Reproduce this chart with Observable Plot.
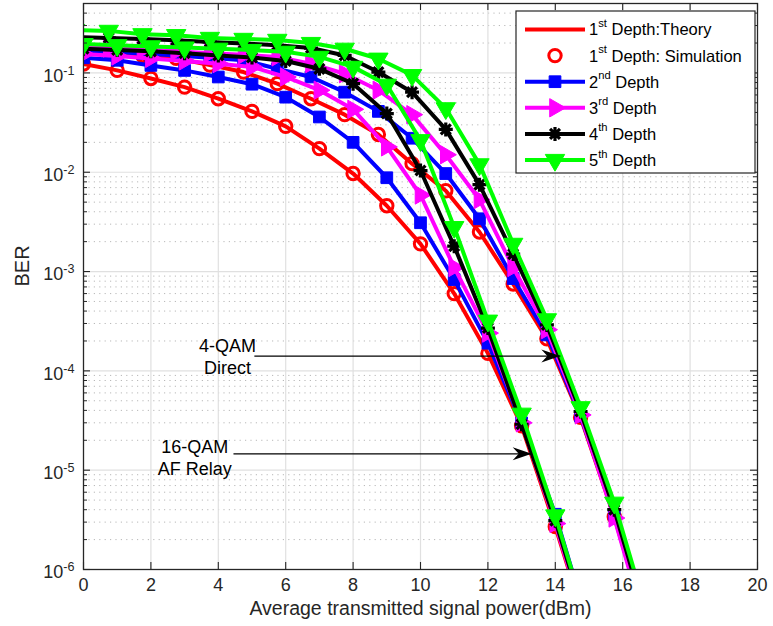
<!DOCTYPE html>
<html><head><meta charset="utf-8">
<script src="https://cdn.jsdelivr.net/npm/d3@7"></script>
<script src="https://cdn.jsdelivr.net/npm/@observablehq/plot@0.6"></script>
<style>
html,body{margin:0;padding:0;background:#fff;}
#chart{position:absolute;left:0;top:0;}
</style></head><body><div id="chart"></div>
<script>
// ---------- data ----------
const xLeft  = [0,1,2,3,4,5,6,7,8,9,10,11,12,13,14,15];
const red1L  = [0.123,0.106,0.088,0.072,0.055,0.041,0.029,0.0173,0.0097,0.0046,0.0019,0.0006,0.00015,2.8e-5,2.7e-6,2.2e-7];
const blue2L = [0.142,0.134,0.119,0.106,0.091,0.077,0.057,0.036,0.020,0.0088,0.0031,0.00083,0.00019,3.0e-5,3.6e-6,2.6e-7];
const mag3L  = [0.155,0.148,0.140,0.132,0.124,0.115,0.091,0.067,0.043,0.018,0.0059,0.0011,0.00024,3.0e-5,2.9e-6,2.2e-7];
const blk4L  = [0.175,0.170,0.165,0.158,0.150,0.143,0.132,0.110,0.078,0.039,0.0104,0.0018,0.00027,2.9e-5,3.1e-6,2.4e-7];
const grn5L  = [0.195,0.190,0.185,0.180,0.175,0.170,0.163,0.145,0.115,0.076,0.021,0.0028,0.00032,3.7e-5,3.5e-6,2.6e-7];

const xRight = [-0.25,0.75,1.75,2.75,3.75,4.75,5.75,6.75,7.75,8.75,9.75,10.75,11.75,12.75,13.75,14.75,15.75,16.75];
const red1R  = [0.165,0.158,0.150,0.140,0.120,0.102,0.078,0.055,0.038,0.024,0.0122,0.0065,0.0025,0.00075,0.00021,3.4e-5,3.4e-6,2.4e-7];
const blue2R = [0.170,0.163,0.157,0.150,0.142,0.134,0.110,0.091,0.064,0.041,0.022,0.0097,0.0034,0.00085,0.00023,3.5e-5,3.6e-6,2.2e-7];
const mag3R  = [0.185,0.178,0.172,0.165,0.158,0.152,0.145,0.124,0.098,0.067,0.038,0.015,0.0053,0.0011,0.00026,3.6e-5,3.3e-6,2.2e-7];
const blk4R  = [0.230,0.225,0.220,0.213,0.205,0.198,0.190,0.178,0.150,0.102,0.064,0.027,0.0075,0.0015,0.00029,3.9e-5,4.0e-6,2.8e-7];
const grn5R  = [0.270,0.265,0.245,0.240,0.225,0.220,0.215,0.200,0.175,0.139,0.095,0.044,0.012,0.0019,0.00033,4.3e-5,4.7e-6,3.3e-7];

const xTicks = [0,2,4,6,8,10,12,14,16,18,20];
const yTicks = [1e-6,1e-5,1e-4,1e-3,1e-2,1e-1];
const yMinor = yTicks.flatMap(p => [2,3,4,5,6,7,8,9].map(m => m*p)).filter(v => v < 0.5);

const legendLabels = [["1","st"," Depth:Theory"],["1","st"," Depth: Simulation"],["2","nd"," Depth"],["3","rd"," Depth"],["4","th"," Depth"],["5","th"," Depth"]];
const annoText = ["4-QAM\nDirect", "16-QAM\nAF Relay"];
const annoTextX = [4.27, 3.3];
const annoTextY = [1.41e-4, 1.37e-5];
const arrowX1 = [5.07, 4.45];
const arrowX2 = [14.15, 13.3];
const arrowY  = [1.41e-4, 1.46e-5];

// ---------- styles ----------
const FONT = "'Liberation Sans', Arial, Helvetica, sans-serif";
const asterisk8 = {draw(ctx, size){ const r = Math.sqrt(size/Math.PI);
  for (const a of [0,45,90,135]) { const t=a*Math.PI/180;
    ctx.moveTo(r*Math.cos(t), r*Math.sin(t)); ctx.lineTo(-r*Math.cos(t), -r*Math.sin(t)); } }};
const arrowHead = {draw(ctx){ ctx.moveTo(0,0); ctx.lineTo(-19,-6.5); ctx.lineTo(-13,0); ctx.lineTo(-19,6.5); ctx.closePath(); }};

const styles = {
  red:  {color:"#ff0000", symbol:"circle",  r:6.2, fill:"none",    sw:3,   rotate:0},
  blue: {color:"#0000ff", symbol:"square",  r:6.6, fill:"#0000ff", sw:1,   rotate:0},
  mag:  {color:"#ff00ff", symbol:"triangle",r:6.8, fill:"#ff00ff", sw:1,   rotate:90},
  blk:  {color:"#000000", symbol:asterisk8, r:7,   fill:"none",    sw:3.2, rotate:0},
  grn:  {color:"#00ff00", symbol:"triangle",r:7.2, fill:"#00ff00", sw:1,   rotate:180}
};
const seriesList = [
  [xLeft, red1L, "red"], [xRight, red1R, "red"],
  [xLeft, blue2L, "blue"], [xRight, blue2R, "blue"],
  [xLeft, mag3L, "mag"], [xRight, mag3R, "mag"],
  [xLeft, blk4L, "blk"], [xRight, blk4R, "blk"],
  [xLeft, grn5L, "grn"], [xRight, grn5R, "grn"]
];

function seriesMarks(xs, ys, key) {
  const st = styles[key];
  const rows = xs.map((x, i) => ({x, y: ys[i]}));
  return [
    Plot.line(rows, {x:"x", y:"y", stroke: st.color, strokeWidth: 4, strokeLinejoin:"round", clip: true}),
    Plot.dot(rows, {x:"x", y:"y", symbol: st.symbol, r: st.r, fill: st.fill, stroke: st.color,
                    strokeWidth: st.sw, rotate: st.rotate, clip: true})
  ];
}

const W = 773, H = 626, mL = 83, mR = 16, mT = 3, mB = 57;
const fw = W - mL - mR, fh = H - mT - mB;
const gridCol = "#e0e0e0", axCol = "#262626";

const annos = annoText.map((t, i) => ({t, x: annoTextX[i], y: annoTextY[i]}));
const arrows = arrowX1.map((x1, i) => ({x1, x2: arrowX2[i], y: arrowY[i]}));

const svg = Plot.plot({
  width: W, height: H, marginLeft: mL, marginRight: mR, marginTop: mT, marginBottom: mB,
  style: {fontFamily: FONT, fontSize: "18px", color: axCol, background: "#fff"},
  x: {domain: [0, 20]},
  y: {type: "log", domain: [1e-6, 0.5]},
  marks: [
    Plot.ruleY(yMinor, {y: d => d, stroke: "#b8b8b8", strokeWidth: 1, strokeDasharray: "1.2,4.2"}),
    Plot.ruleY(yTicks.slice(1), {y: d => d, stroke: gridCol, strokeWidth: 1.2}),
    Plot.ruleX(xTicks.slice(1, -1), {x: d => d, stroke: gridCol, strokeWidth: 1.2}),
    ...seriesList.flatMap(([xs, ys, k]) => seriesMarks(xs, ys, k)),
    Plot.link(arrows, {x1: "x1", x2: "x2", y1: "y", y2: "y", stroke: "#000", strokeWidth: 1.2}),
    Plot.dot(arrows, {x: "x2", y: "y", symbol: arrowHead, r: 5, fill: "#000", stroke: "none"}),
    Plot.text(annos, {x: "x", y: "y", text: "t", fontSize: 18, lineHeight: 1.22, fill: "#000", textAnchor: "middle"}),
    // ticks (inward)
    Plot.tickX(xTicks, {x: d => d, insetTop: fh - 7, stroke: axCol, strokeWidth: 1.1}),
    Plot.tickX(xTicks, {x: d => d, insetBottom: fh - 7, stroke: axCol, strokeWidth: 1.1}),
    Plot.tickY(yTicks, {y: d => d, insetRight: fw - 7, stroke: axCol, strokeWidth: 1.1}),
    Plot.tickY(yTicks, {y: d => d, insetLeft: fw - 7, stroke: axCol, strokeWidth: 1.1}),
    Plot.tickY(yMinor, {y: d => d, insetRight: fw - 4, stroke: axCol, strokeWidth: 1}),
    Plot.tickY(yMinor, {y: d => d, insetLeft: fw - 4, stroke: axCol, strokeWidth: 1}),
    Plot.frame({stroke: axCol, strokeWidth: 1.3}),
    Plot.axisX({ticks: xTicks, tickSize: 0, tickPadding: 9, fontSize: 18, label: null, tickFormat: d => String(d)}),
    Plot.axisY({ticks: yTicks, tickSize: 0, tickPadding: 9, fontSize: 18, label: null, dy: 3,
                tickFormat: d => String(Math.round(Math.log10(d)))}),
    Plot.text(["Average transmitted signal power(dBm)"], {frameAnchor: "bottom", lineAnchor: "middle", dy: 39, fontSize: 19.5, fill: axCol}),
    Plot.text(["BER"], {frameAnchor: "left", lineAnchor: "middle", dx: -61, rotate: -90, fontSize: 20, fill: axCol})
  ]
});

// superscript exponents on y tick labels
d3.select(svg).selectAll('g[aria-label="y-axis tick label"] text').each(function () {
  const e = this.textContent;
  const t = d3.select(this);
  t.text(null);
  t.append("tspan").text("10");
  t.append("tspan").attr("dy", "-0.55em").attr("font-size", "0.7em").text(e);
});

// legend
const symType = s => s === "circle" ? d3.symbolCircle : s === "square" ? d3.symbolSquare : s === "triangle" ? d3.symbolTriangle : s;
const legendKeys = ["red", "red", "blue", "mag", "blk", "grn"];
const lg = d3.select(svg).append("g").attr("font-family", FONT).attr("font-size", 16.5).attr("text-anchor", "start");
const bx = 516, by = 11, bw = 239, bh = 162;
lg.append("rect").attr("x", bx).attr("y", by).attr("width", bw).attr("height", bh)
  .attr("fill", "#fff").attr("stroke", axCol).attr("stroke-width", 1.2);
legendLabels.forEach((parts, i) => {
  const st = styles[legendKeys[i]];
  const yy = by + 18.5 + i * 26.1;
  if (i !== 1) lg.append("line").attr("x1", bx + 9).attr("x2", bx + 69).attr("y1", yy).attr("y2", yy)
      .attr("stroke", st.color).attr("stroke-width", 4);
  if (i !== 0) lg.append("path")
      .attr("d", d3.symbol().type(symType(st.symbol)).size(Math.PI * st.r * st.r)())
      .attr("transform", `translate(${bx + 39},${yy}) rotate(${st.rotate})`)
      .attr("fill", st.fill).attr("stroke", st.color).attr("stroke-width", st.sw);
  const t = lg.append("text").attr("x", bx + 73).attr("y", yy).attr("dy", "0.36em").attr("fill", "#000");
  t.append("tspan").text(parts[0]);
  t.append("tspan").attr("dy", "-0.75em").attr("font-size", "0.68em").text(parts[1]);
  t.append("tspan").attr("dy", "0.51em").text(parts[2]);
});

document.getElementById("chart").appendChild(svg);
</script>
</body></html>
